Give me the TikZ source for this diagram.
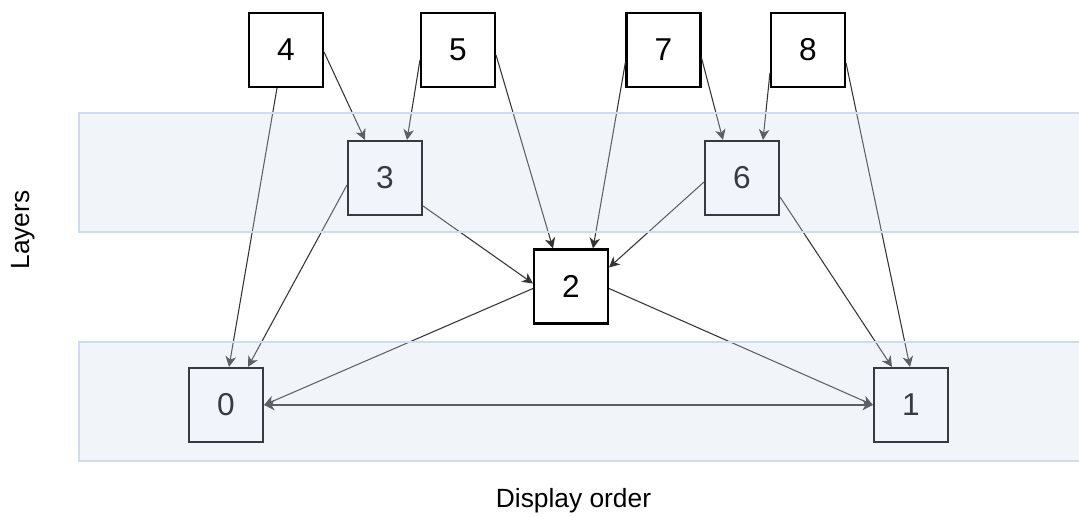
\documentclass[tikz,border=0pt]{standalone}
\usepackage{fontspec}
\setmainfont{Liberation Sans}
\usetikzlibrary{arrows.meta,calc}
\definecolor{bandfill}{HTML}{CCDAED}
\definecolor{bandline}{HTML}{D0DCEE}
\definecolor{edgecol}{HTML}{333333}
\tikzset{
  box/.style={draw=black, fill=white, line width=1.2pt, minimum size=1.48cm, inner sep=0pt, font=\fontsize{18}{21}\selectfont},
  edge/.style={draw=edgecol, line width=0.6pt, -{Stealth[length=6pt,width=6pt,inset=1.8pt]}},
  band/.style={fill=bandfill, fill opacity=0.27, draw=bandline, line width=1pt},
  lbl/.style={font=\fontsize{15}{18}\selectfont}
}
\begin{document}
\begin{tikzpicture}[x=0.02cm,y=-0.02cm]
\useasboundingbox (0,0) rectangle (1079,517);
% boxes
\node[box] (n4) at (286,50) {4};
\node[box] (n5) at (458,50) {5};
\node[box] (n7) at (663.5,50) {7};
\node[box] (n8) at (808,50) {8};
\node[box] (n3) at (385,178) {3};
\node[box] (n6) at (742,178) {6};
\node[box] (n2) at (571,286.5) {2};
\node[box] (n0) at (226,405) {0};
\node[box] (n1) at (911,405) {1};
% edges
\draw[edge] ($(n4.south)+(-9,0)$) -- ($(n0.north)+(3,0)$);
\draw[edge] ($(n4.east)+(0,2)$) -- ($(n3.north)+(-20,0)$);
\draw[edge] ($(n5.west)+(0,10)$) -- ($(n3.north)+(22,0)$);
\draw[edge] ($(n5.east)+(0,5)$) -- ($(n2.north)+(-18,0)$);
\draw[edge] ($(n7.west)+(0,12)$) -- ($(n2.north)+(22,0)$);
\draw[edge] ($(n7.east)+(0,8)$) -- ($(n6.north)+(-19,0)$);
\draw[edge] ($(n8.west)+(0,23)$) -- ($(n6.north)+(21,0)$);
\draw[edge] ($(n8.east)+(0,13)$) -- ($(n1.north)+(-1,0)$);
\draw[edge] ($(n6.east)+(0,19)$) -- ($(n1.north)+(-19,0)$);
\draw[edge] ($(n6.west)+(0,4)$) -- ($(n2.east)+(0,-19)$);
\draw[edge] ($(n3.west)+(0,7)$) -- ($(n0.north)+(22,0)$);
\draw[edge] ($(n3.east)+(0,28)$) -- ($(n2.west)+(0,-3)$);
\draw[edge] ($(n2.west)+(0,2)$) -- (n0.east);
\draw[edge] ($(n2.east)+(0,2)$) -- (n1.west);
\draw[edge,{Stealth[length=6pt,width=6pt,inset=1.8pt]}-{Stealth[length=6pt,width=6pt,inset=1.8pt]}] (n0.east) -- (n1.west);
% bands (semi-transparent, on top)
\path[band] (79,113) rectangle (1085,232);
\path[band] (79,342) rectangle (1085,461);
% labels
\node[lbl, rotate=90] (layers) at (23,230) {Layers};
\node[lbl, anchor=base] (disp) at (573.5,507) {Display order};
\end{tikzpicture}
\end{document}
